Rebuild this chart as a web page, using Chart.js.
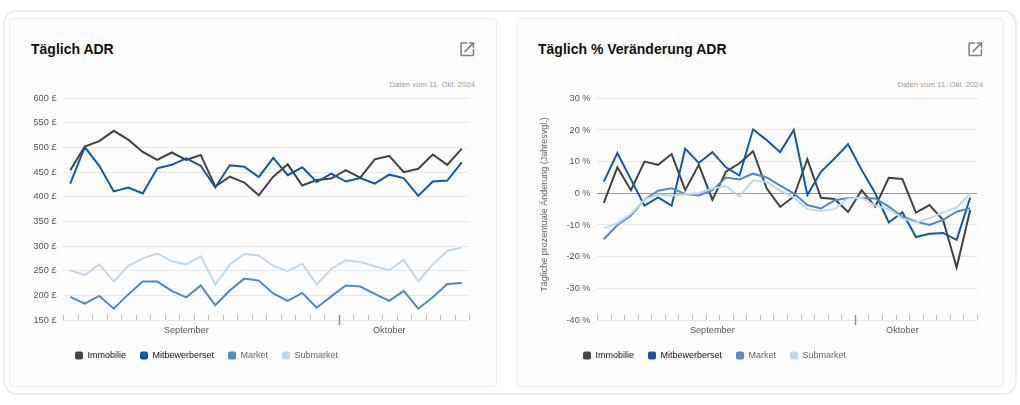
<!DOCTYPE html>
<html lang="de">
<head>
<meta charset="utf-8">
<title>Täglich ADR</title>
<script src="https://cdn.jsdelivr.net/npm/chart.js@4"></script>
<style>
html, body { margin: 0; padding: 0; background: #fff; }
body { width: 1020px; height: 405px; position: relative; overflow: hidden; font-family: "Liberation Sans", sans-serif; }
.frame { position: absolute; left: 3px; top: 10px; width: 1010px; height: 381px; border: 2px solid #eeeeee; border-radius: 14px; }
.card { position: absolute; top: 18px; height: 367px; background: #fdfdfd; border: 1px solid #eeeeee; border-radius: 3px; }
#card1 { left: 9px; width: 486px; }
#card2 { left: 517px; width: 485px; }
.card h2 { position: absolute; top: 21px; margin: 0; font-size: 14px; line-height: 18px; font-weight: bold; color: #111; }
#card1 h2 { left: 21px; }
#card2 h2 { left: 20px; }
.card svg { position: absolute; top: 21px; left: 447.5px; width: 18.5px; height: 18.5px; fill: #808080; }
.card .stamp { position: absolute; top: 60px; font-size: 7.75px; line-height: 12px; color: #9a9a9a; }
#card1 .stamp { right: 21px; }
#card2 .stamp { right: 20px; }
canvas { position: absolute; top: 70px; left: 5px; }
</style>
</head>
<body>
<div class="frame"></div>
<div class="card" id="card1">
  <h2>Täglich ADR</h2>
  <svg viewBox="0 0 24 24"><path d="M19 19H5V5h7V3H5c-1.11 0-2 .9-2 2v14c0 1.1.89 2 2 2h14c1.1 0 2-.9 2-2v-7h-2v7zM14 3v2h3.59l-9.83 9.83 1.41 1.41L19 6.41V10h2V3h-7z"/></svg>
  <div class="stamp">Daten vom 11. Okt. 2024</div>
  <canvas id="adr" width="476" height="290"></canvas>
</div>
<div class="card" id="card2">
  <h2>Täglich % Veränderung ADR</h2>
  <svg viewBox="0 0 24 24"><path d="M19 19H5V5h7V3H5c-1.11 0-2 .9-2 2v14c0 1.1.89 2 2 2h14c1.1 0 2-.9 2-2v-7h-2v7zM14 3v2h3.59l-9.83 9.83 1.41 1.41L19 6.41V10h2V3h-7z"/></svg>
  <div class="stamp">Daten vom 11. Okt. 2024</div>
  <canvas id="change" width="476" height="290"></canvas>
</div>
<script>
const categories = ["12. Sep","13. Sep","14. Sep","15. Sep","16. Sep","17. Sep","18. Sep","19. Sep","20. Sep","21. Sep",
  "22. Sep","23. Sep","24. Sep","25. Sep","26. Sep","27. Sep","28. Sep","29. Sep","30. Sep",
  "1. Okt","2. Okt","3. Okt","4. Okt","5. Okt","6. Okt","7. Okt","8. Okt","9. Okt"];
const monthLabels = { "20. Sep": "September", "4. Okt": "Oktober" };
const monthStart = "1. Okt";

const seriesNames = ["Immobilie", "Mitbewerberset", "Market", "Submarket"];
const seriesColors = ["#434343", "#1259a8", "#5089c4", "#bcd8ef"];
const legendColors = ["#444444", "#0b57b0", "#4c90d0", "#bcd9f0"];
const legendTextColors = ["#111111", "#111111", "#666666", "#666666"];

const adrImmobilie = [454,502,513,534,516,491,475,490,475,485,421,441,429,403,441,466,423,434,437,454,439,476,483,450,457,486,465,498];
const adrMitbewerber = [427,501,463,411,419,407,458,465,478,463,419,464,461,440,479,444,460,430,447,431,438,427,445,438,402,431,433,470];
const adrMarket = [197,183,199,173,202,228,228,209,196,220,180,210,234,230,204,189,205,175,198,220,218,203,189,209,173,196,223,225];
const adrSubmarket = [251,241,263,228,260,275,285,269,263,279,222,262,284,281,260,249,264,222,254,271,268,259,251,272,229,263,290,297];

const changeImmobilie = [-3,8.2,1,10,9,12.4,1,9,-2,6.8,9.5,13.3,1.6,-4.3,-1,10.8,-1.4,-1.8,-5.9,1,-4.2,4.9,4.5,-6.1,-3.7,-8.4,-23.4,-5.3];
const changeMitbewerber = [3.7,12.7,4.4,-3.9,-1.3,-3.9,14.1,9.6,13,8.2,5.6,20.2,16.8,13,20,-0.5,6.8,11,15.5,7.4,0,-9.2,-6,-13.8,-12.8,-12.5,-14.7,-1.3];
const changeMarket = [-14.5,-10,-7,-2,0.8,1.6,-0.2,-0.7,1,5,4.4,6.2,5,2.4,0,-3.7,-4.8,-2.2,-1.5,-1.5,-1.6,-4.2,-7.4,-8.9,-10,-8.4,-5.8,-4.7];
const changeSubmarket = [-11,-9.5,-6.5,-2,-0.4,-0.8,-0.3,0,1.5,2.3,-1,4.1,3.6,0.8,-1.3,-5,-5.5,-5,-1.6,-1.4,-3.9,-5,-7.9,-9.2,-7.9,-6,-4.5,0];

const adrTicks = [150,200,250,300,350,400,450,500,550,600];
const changeTicks = [-40,-30,-20,-10,0,10,20,30];

// tick marks sit above the axis line, so they are drawn by hand from the x scale
const axisMarks = {
  id: "axisMarks",
  beforeDatasetsDraw(chart) {
    const x = chart.scales.x, ctx = chart.ctx, bottom = chart.chartArea.bottom;
    const step = x.getPixelForValue(1) - x.getPixelForValue(0);
    ctx.save();
    categories.forEach((c, i) => {
      const px = Math.round(x.getPixelForValue(i) - step / 2) + 0.5;
      const isMonth = c === monthStart;
      ctx.lineWidth = isMonth ? 1.5 : 1;
      ctx.strokeStyle = isMonth ? "#909090" : "#bdbdbd";
      ctx.beginPath();
      ctx.moveTo(px, bottom - 5);
      ctx.lineTo(px, bottom + (isMonth ? 5 : 0));
      ctx.stroke();
    });
    const endPx = Math.round(x.right) + 0.5;
    ctx.lineWidth = 1;
    ctx.strokeStyle = "#bdbdbd";
    ctx.beginPath();
    ctx.moveTo(endPx, bottom - 5);
    ctx.lineTo(endPx, bottom);
    ctx.stroke();
    ctx.restore();
  }
};

// moves the legend so it starts under the plot, not at the canvas edge
const legendShift = {
  id: "legendShift",
  afterLayout(chart, args, opts) {
    chart.legend.left = opts.left;
  }
};

// the reference centres the y title a little above the plot centre, scale titles can't do that
const yCaption = {
  id: "yCaption",
  afterDraw(chart, args, opts) {
    if (!opts.text) return;
    const ctx = chart.ctx;
    ctx.save();
    ctx.translate(opts.x, opts.y);
    ctx.rotate(-Math.PI / 2);
    ctx.textAlign = "center";
    ctx.textBaseline = "middle";
    ctx.fillStyle = "#666666";
    ctx.font = '9px "Liberation Sans"';
    ctx.fillText(opts.text, 0, 0);
    ctx.restore();
  }
};

function buildChart(id, values, yTicks, unit, box) {
  return new Chart(document.getElementById(id), {
    type: "line",
    data: {
      labels: categories,
      datasets: values.map((v, i) => ({
        label: seriesNames[i],
        data: v,
        borderColor: seriesColors[i],
        backgroundColor: legendColors[i],
        borderWidth: 2,
        pointRadius: 0,
        tension: 0,
        order: values.length - i
      }))
    },
    options: {
      responsive: false,
      animation: false,
      layout: { padding: box.padding },
      plugins: {
        title: { display: false },
        tooltip: { enabled: false },
        legendShift: { left: box.legendLeft },
        yCaption: { text: box.yTitle, x: 22, y: 115.5 },
        legend: {
          position: "bottom",
          align: "start",
          labels: {
            boxWidth: 8,
            boxHeight: 8,
            padding: 14,
            font: { family: "Liberation Sans", size: 9 },
            generateLabels: () => seriesNames.map((name, i) => ({
              text: name,
              fillStyle: legendColors[i],
              strokeStyle: legendColors[i],
              lineWidth: 0,
              fontColor: legendTextColors[i],
              borderRadius: 2,
              datasetIndex: i
            }))
          }
        }
      },
      scales: {
        x: {
          type: "category",
          offset: true,
          border: { display: false },
          grid: { display: false, drawTicks: false },
          afterFit: s => { s.height = box.xHeight; },
          ticks: {
            autoSkip: false,
            maxRotation: 0,
            padding: 4.5,
            color: "#555555",
            font: { family: "Liberation Sans", size: 9.2 },
            callback: (v, i) => monthLabels[categories[i]] || ""
          }
        },
        y: {
          min: yTicks[0],
          max: yTicks[yTicks.length - 1],
          border: { display: false },
          afterFit: s => { s.width = box.yWidth; s.paddingTop = 0; s.paddingBottom = 0; },
          afterBuildTicks: s => { s.ticks = yTicks.map(value => ({ value })); },
          grid: {
            drawTicks: false,
            color: c => c.tick.value === 0 ? "#9a9a9a" : "#e8e8e8"
          },
          ticks: {
            padding: 6.5,
            color: "#555555",
            font: { family: "Liberation Sans", size: 9.2 },
            callback: v => v + " " + unit
          }
        }
      }
    },
    plugins: [axisMarks, legendShift, yCaption]
  });
}

buildChart("adr", [adrImmobilie, adrMitbewerber, adrMarket, adrSubmarket], adrTicks, "£", {
  padding: { left: 5, right: 22, top: 9.3, bottom: 9 },
  yWidth: 43,
  xHeight: 17,
  legendLeft: 46
});
buildChart("change", [changeImmobilie, changeMitbewerber, changeMarket, changeSubmarket], changeTicks, "%", {
  padding: { left: 5, right: 22, top: 9.3, bottom: 9 },
  yWidth: 69,
  xHeight: 17,
  legendLeft: 46,
  yTitle: "Tägliche prozentuale Änderung (Jahresvgl.)"
});
</script>
</body>
</html>
